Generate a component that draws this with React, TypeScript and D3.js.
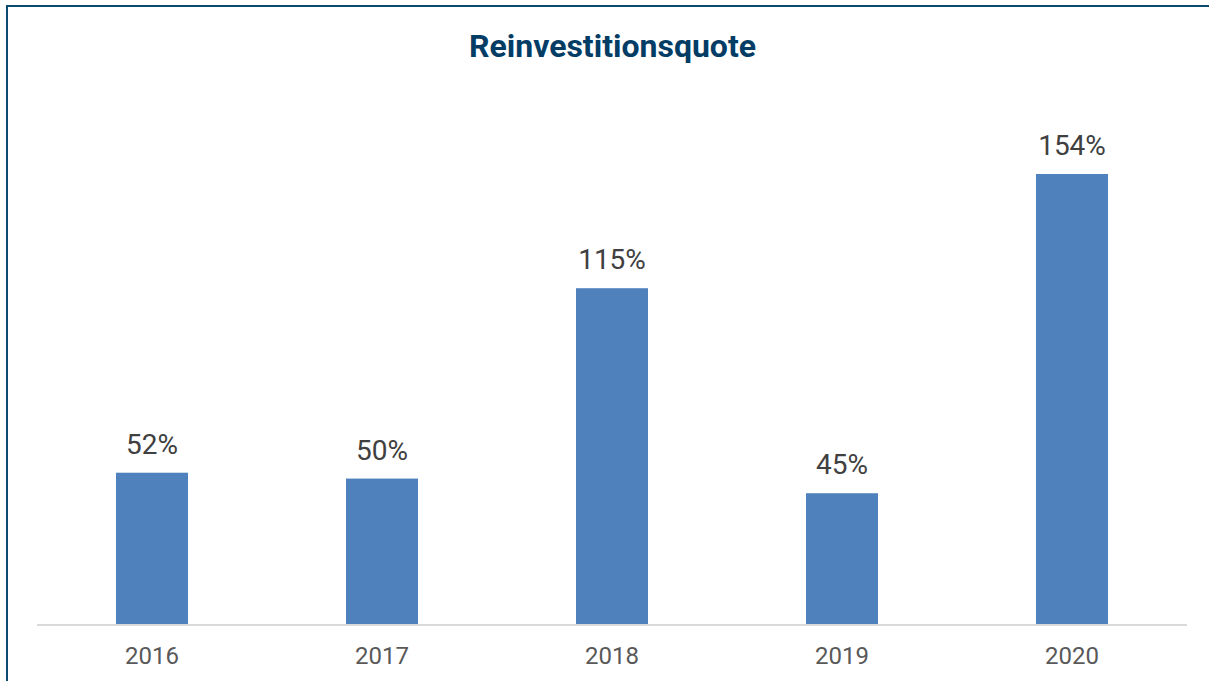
import React, { useEffect, useRef } from 'react';
import * as d3 from 'd3';

const years = ['2016', '2017', '2018', '2019', '2020'];
const quote = [52, 50, 115, 45, 154];
const title = 'Reinvestitionsquote';

const W = 1209;
const H = 681;

export default function App() {
  const svgRef = useRef<SVGSVGElement>(null);

  useEffect(() => {
    if (!svgRef.current) return;
    const svg = d3.select(svgRef.current);
    svg.selectAll('*').remove();

    const margin = { left: 37, right: 22, bottom: 56 };
    const baseY = H - margin.bottom;

    const x = d3.scaleBand<string>()
      .domain(years)
      .range([margin.left, W - margin.right])
      .paddingInner(0.687)
      .paddingOuter(0.3435);

    const y = d3.scaleLinear()
      .domain([0, 154])
      .range([baseY, 174]);

    // frame (runs off the right and bottom of the picture)
    svg.append('path')
      .attr('d', `M7,${H + 5} V6 H${W + 5}`)
      .attr('fill', 'none')
      .attr('stroke', '#0d4a70')
      .attr('stroke-width', 2);

    svg.append('text')
      .attr('x', W / 2 + 8)
      .attr('y', 57)
      .attr('text-anchor', 'middle')
      .attr('font-family', 'Roboto')
      .attr('font-weight', 700)
      .attr('font-size', 32)
      .attr('fill', '#033d65')
      .text(title);

    svg.selectAll('rect.bar')
      .data(quote)
      .enter()
      .append('rect')
      .attr('class', 'bar')
      .attr('x', (_, i) => x(years[i]) || 0)
      .attr('y', d => y(d))
      .attr('width', x.bandwidth())
      .attr('height', d => baseY - y(d))
      .attr('fill', '#4f81bd');

    svg.selectAll('text.val')
      .data(quote)
      .enter()
      .append('text')
      .attr('class', 'val')
      .attr('x', (_, i) => (x(years[i]) || 0) + x.bandwidth() / 2)
      .attr('y', d => y(d) - 19)
      .attr('text-anchor', 'middle')
      .attr('font-family', 'Roboto')
      .attr('font-size', 28)
      .attr('fill', '#404040')
      .text(d => `${d}%`);

    svg.append('line')
      .attr('x1', margin.left)
      .attr('x2', W - margin.right)
      .attr('y1', baseY)
      .attr('y2', baseY)
      .attr('stroke', '#d9d9d9')
      .attr('stroke-width', 2);

    svg.selectAll('text.year')
      .data(years)
      .enter()
      .append('text')
      .attr('class', 'year')
      .attr('x', d => (x(d) || 0) + x.bandwidth() / 2)
      .attr('y', 664)
      .attr('text-anchor', 'middle')
      .attr('font-family', 'Roboto')
      .attr('font-size', 24)
      .attr('fill', '#595959')
      .text(d => d);
  }, []);

  return (
    <svg
      ref={svgRef}
      width={W}
      height={H}
      viewBox={`0 0 ${W} ${H}`}
      style={{ position: 'absolute', left: 0, top: 0, background: '#fff' }}
    />
  );
}
